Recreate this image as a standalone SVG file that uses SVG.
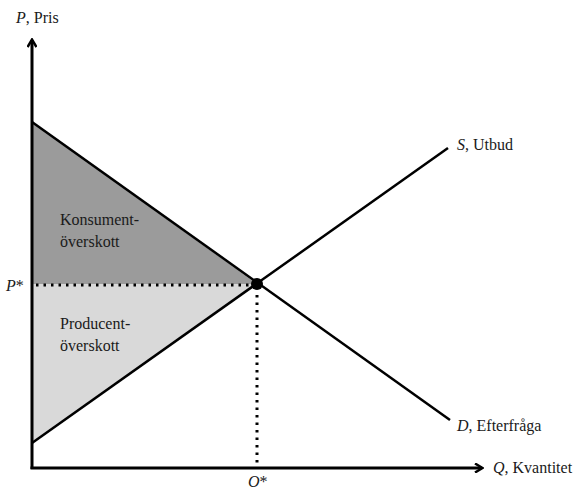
<svg xmlns="http://www.w3.org/2000/svg" width="575" height="491" viewBox="0 0 575 491">
<style>
.t{font-family:'Liberation Serif','Times New Roman',Times,serif;font-size:16px;fill:#1a1a1a}
.ax{stroke:#000;stroke-width:3;fill:none}
.ln{stroke:#000;stroke-width:2.5;fill:none}
.dot{stroke:#000;stroke-width:3;stroke-dasharray:2.5 5;fill:none}
</style>
<defs>
<marker id="ah" markerWidth="10" markerHeight="10" refX="8" refY="5" orient="auto" markerUnits="userSpaceOnUse">
<path d="M1,0.5 L8.5,5 L1,9.5" fill="none" stroke="#000" stroke-width="2.5"/>
</marker>
</defs>
<g id="areas">
<polygon points="32,122 257,284 32,284" fill="#9b9b9b"/>
<polygon points="32,284 257,284 32,443" fill="#d9d9d9"/>
</g>
<g id="connectors">
<line class="ax" x1="32" y1="469" x2="32" y2="40" marker-end="url(#ah)"/>
<line class="ax" x1="30.5" y1="468" x2="482" y2="468" marker-end="url(#ah)"/>
<line class="ln" x1="32" y1="122" x2="450" y2="420"/>
<line class="ln" x1="32" y1="443" x2="448" y2="148"/>
<line class="dot" x1="36" y1="285" x2="254" y2="285"/>
<line class="dot" x1="257" y1="295" x2="257" y2="466"/>
</g>
<g id="equilibrium"><circle cx="257" cy="284" r="6" fill="#000"/></g>
<g id="labels" class="t" font-family="Liberation Serif, serif">
<text x="16" y="23"><tspan font-style="italic">P</tspan>, Pris</text>
<text x="6" y="291"><tspan font-style="italic">P</tspan>*</text>
<text x="248" y="487"><tspan font-style="italic">O</tspan>*</text>
<text x="457" y="150"><tspan font-style="italic">S</tspan>, Utbud</text>
<text x="457" y="431"><tspan font-style="italic">D</tspan>, Efterfråga</text>
<text x="493" y="473"><tspan font-style="italic">Q</tspan>, Kvantitet</text>
<text x="60" y="225">Konsument-</text>
<text x="60" y="247">överskott</text>
<text x="60" y="329">Producent-</text>
<text x="60" y="351">överskott</text>
</g>
</svg>
